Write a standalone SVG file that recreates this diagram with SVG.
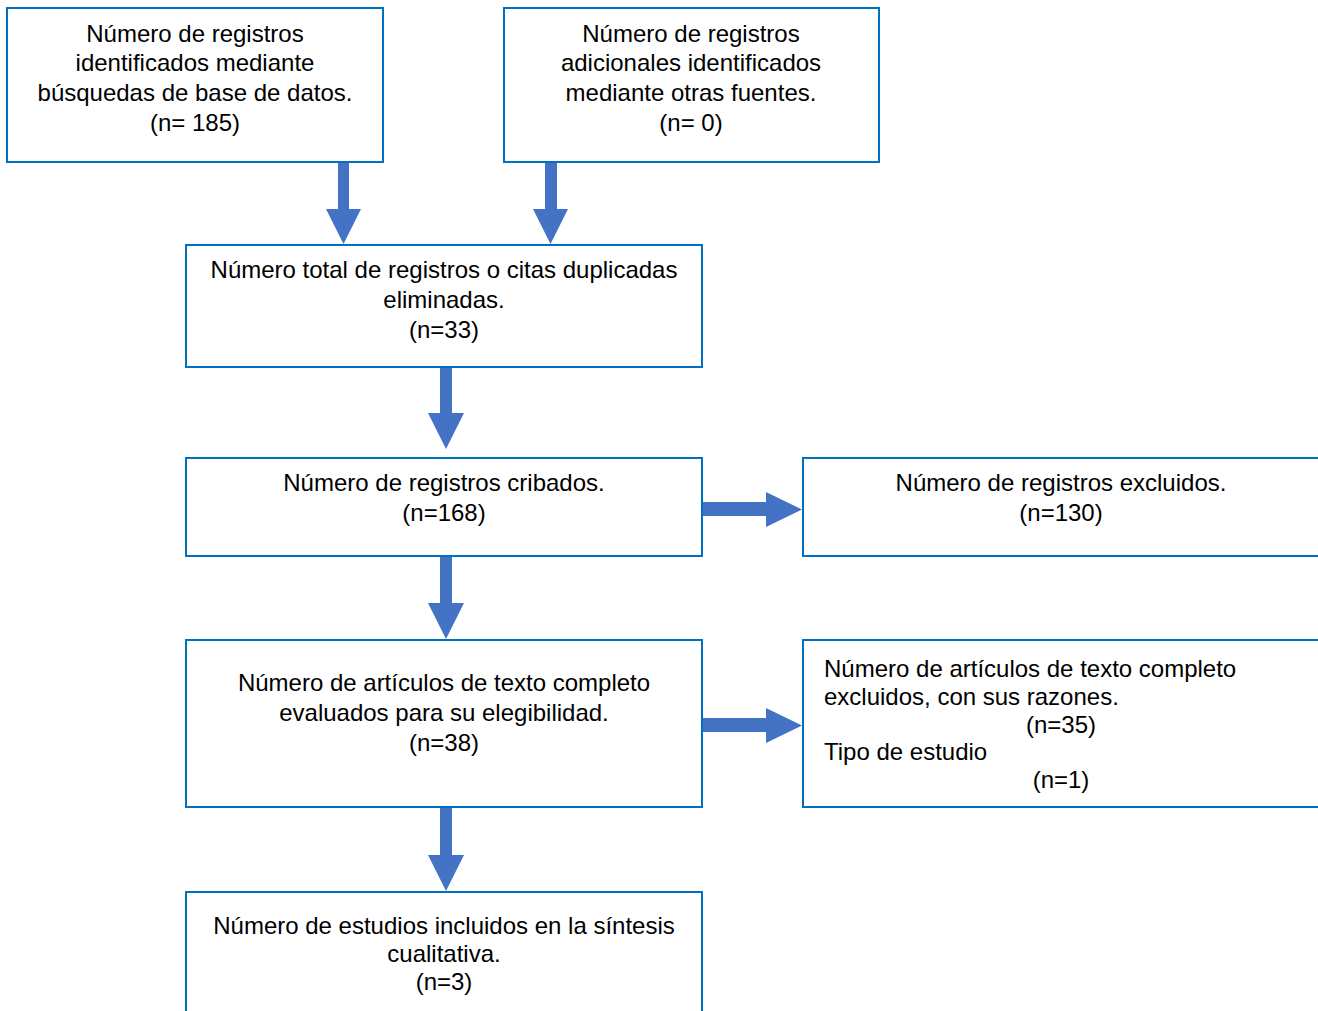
<svg xmlns="http://www.w3.org/2000/svg" width="1318" height="1011" viewBox="0 0 1318 1011">
<style>
.box{fill:#fff;stroke:#0070C0;stroke-width:2}
.t{font-family:"Liberation Sans",Arial,sans-serif;font-size:24px;fill:#000;text-anchor:middle}
.l{text-anchor:start}
.arr{fill:#4472C4}
</style>
<rect width="1318" height="1011" fill="#fff"/>
<g id="connectors">
<polygon class="arr" points="338,162 349,162 349,209 361,209 343.5,244 326,209 338,209"/>
<polygon class="arr" points="545,162 557,162 557,209 568,209 550.5,244 533,209 545,209"/>
<polygon class="arr" points="440,367 452,367 452,413 464,413 446,449 428,413 440,413"/>
<polygon class="arr" points="440,556 452,556 452,603 464,603 446,639 428,603 440,603"/>
<polygon class="arr" points="440,807 452,807 452,855 464,855 446,891 428,855 440,855"/>
<polygon class="arr" points="702,502 766,502 766,492 802,509.5 766,527 766,516 702,516"/>
<polygon class="arr" points="702,718 766,718 766,708 802,725.5 766,743 766,732 702,732"/>
</g>
<g id="n1">
<rect class="box" x="7" y="8" width="376" height="154"/>
<text class="t" x="195" y="42">Número de registros</text>
<text class="t" x="195" y="71">identificados mediante</text>
<text class="t" x="195" y="101">búsquedas de base de datos.</text>
<text class="t" x="195" y="131">(n= 185)</text>
</g>
<g id="n2">
<rect class="box" x="504" y="8" width="375" height="154"/>
<text class="t" x="691" y="42">Número de registros</text>
<text class="t" x="691" y="71">adicionales identificados</text>
<text class="t" x="691" y="101">mediante otras fuentes.</text>
<text class="t" x="691" y="131">(n= 0)</text>
</g>
<g id="n3">
<rect class="box" x="186" y="245" width="516" height="122"/>
<text class="t" x="444" y="278">Número total de registros o citas duplicadas</text>
<text class="t" x="444" y="308">eliminadas.</text>
<text class="t" x="444" y="338">(n=33)</text>
</g>
<g id="n4">
<rect class="box" x="186" y="458" width="516" height="98"/>
<text class="t" x="444" y="491">Número de registros cribados.</text>
<text class="t" x="444" y="521">(n=168)</text>
</g>
<g id="n5">
<rect class="box" x="803" y="458" width="520" height="98"/>
<text class="t" x="1061" y="491">Número de registros excluidos.</text>
<text class="t" x="1061" y="521">(n=130)</text>
</g>
<g id="n6">
<rect class="box" x="186" y="640" width="516" height="167"/>
<text class="t" x="444" y="691">Número de artículos de texto completo</text>
<text class="t" x="444" y="721">evaluados para su elegibilidad.</text>
<text class="t" x="444" y="751">(n=38)</text>
</g>
<g id="n7">
<rect class="box" x="803" y="640" width="520" height="167"/>
<text class="t l" x="824" y="677">Número de artículos de texto completo</text>
<text class="t l" x="824" y="705">excluidos, con sus razones.</text>
<text class="t" x="1061" y="733">(n=35)</text>
<text class="t l" x="824" y="760">Tipo de estudio</text>
<text class="t" x="1061" y="788">(n=1)</text>
</g>
<g id="n8">
<rect class="box" x="186" y="892" width="516" height="130"/>
<text class="t" x="444" y="934">Número de estudios incluidos en la síntesis</text>
<text class="t" x="444" y="962">cualitativa.</text>
<text class="t" x="444" y="990">(n=3)</text>
</g>
</svg>
